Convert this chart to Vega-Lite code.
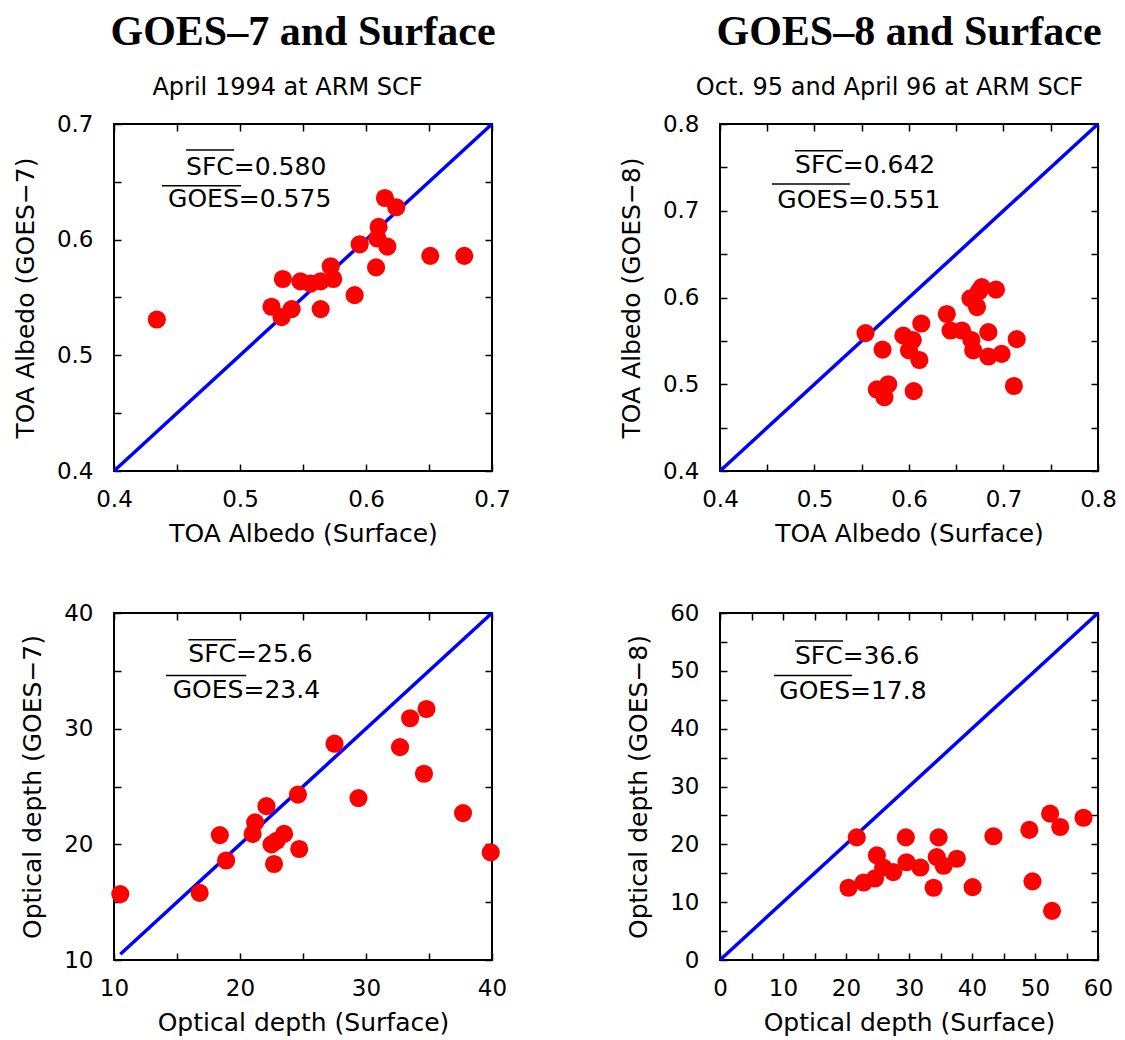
{
  "$schema": "https://vega.github.io/schema/vega-lite/v6.json",
  "background": "white",
  "padding": {"left": 12, "top": 10, "right": 5, "bottom": 5},
  "columns": 2,
  "spacing": {"row": 142, "column": 228},
  "bounds": "flush",
  "config": {
    "font": "DejaVu Sans",
    "view": {"stroke": "black", "strokeWidth": 2},
    "axis": {"domain": false, "grid": false, "ticks": true, "tickColor": "black", "tickWidth": 1.5, "tickSize": -7, "labelFont": "DejaVu Sans", "labelFontSize": 23, "labelColor": "black", "labelFlush": false, "labelOverlap": false, "titleFont": "DejaVu Sans", "titleFontSize": 25, "titleFontWeight": "normal", "titleColor": "black"},
    "axisX": {"labelPadding": 24, "titlePadding": 10},
    "axisY": {"labelPadding": 28, "titlePadding": 18},
    "title": {"font": "Liberation Serif", "fontSize": 42, "fontWeight": "bold", "color": "black", "anchor": "middle", "offset": 21, "frame": "group"}
  },
  "datasets": {
    "g7_albedo": [
      {"sfc": 0.434, "goes": 0.531}, {"sfc": 0.615, "goes": 0.636}, {"sfc": 0.624, "goes": 0.628}, {"sfc": 0.610, "goes": 0.611},
      {"sfc": 0.609, "goes": 0.601}, {"sfc": 0.617, "goes": 0.594}, {"sfc": 0.595, "goes": 0.596}, {"sfc": 0.608, "goes": 0.576},
      {"sfc": 0.651, "goes": 0.586}, {"sfc": 0.678, "goes": 0.586}, {"sfc": 0.591, "goes": 0.552}, {"sfc": 0.572, "goes": 0.577},
      {"sfc": 0.574, "goes": 0.566}, {"sfc": 0.564, "goes": 0.564}, {"sfc": 0.556, "goes": 0.562}, {"sfc": 0.548, "goes": 0.564},
      {"sfc": 0.534, "goes": 0.566}, {"sfc": 0.525, "goes": 0.542}, {"sfc": 0.533, "goes": 0.533}, {"sfc": 0.541, "goes": 0.540},
      {"sfc": 0.564, "goes": 0.540}
    ],
    "g8_albedo": [
      {"sfc": 0.554, "goes": 0.559}, {"sfc": 0.572, "goes": 0.540}, {"sfc": 0.566, "goes": 0.494}, {"sfc": 0.578, "goes": 0.500},
      {"sfc": 0.574, "goes": 0.485}, {"sfc": 0.605, "goes": 0.492}, {"sfc": 0.594, "goes": 0.556}, {"sfc": 0.600, "goes": 0.539},
      {"sfc": 0.611, "goes": 0.528}, {"sfc": 0.613, "goes": 0.570}, {"sfc": 0.604, "goes": 0.551}, {"sfc": 0.640, "goes": 0.581},
      {"sfc": 0.644, "goes": 0.562}, {"sfc": 0.656, "goes": 0.562}, {"sfc": 0.666, "goes": 0.551}, {"sfc": 0.668, "goes": 0.539},
      {"sfc": 0.674, "goes": 0.607}, {"sfc": 0.665, "goes": 0.599}, {"sfc": 0.672, "goes": 0.589}, {"sfc": 0.692, "goes": 0.609},
      {"sfc": 0.677, "goes": 0.612}, {"sfc": 0.684, "goes": 0.560}, {"sfc": 0.684, "goes": 0.532}, {"sfc": 0.698, "goes": 0.535},
      {"sfc": 0.714, "goes": 0.552}, {"sfc": 0.711, "goes": 0.498}
    ],
    "g7_tau": [
      {"sfc": 10.5, "goes": 15.7}, {"sfc": 16.8, "goes": 15.8}, {"sfc": 18.4, "goes": 20.8}, {"sfc": 18.9, "goes": 18.6},
      {"sfc": 21.0, "goes": 20.9}, {"sfc": 21.2, "goes": 21.9}, {"sfc": 22.1, "goes": 23.3}, {"sfc": 22.5, "goes": 20.0},
      {"sfc": 22.7, "goes": 18.3}, {"sfc": 23.5, "goes": 20.9}, {"sfc": 22.9, "goes": 20.3}, {"sfc": 24.7, "goes": 19.6},
      {"sfc": 24.6, "goes": 24.3}, {"sfc": 27.5, "goes": 28.7}, {"sfc": 29.4, "goes": 24.0}, {"sfc": 32.7, "goes": 28.4},
      {"sfc": 33.5, "goes": 30.9}, {"sfc": 34.8, "goes": 31.7}, {"sfc": 34.6, "goes": 26.1}, {"sfc": 37.7, "goes": 22.7},
      {"sfc": 39.9, "goes": 19.3}
    ],
    "g8_tau": [
      {"sfc": 21.7, "goes": 21.2}, {"sfc": 20.4, "goes": 12.5}, {"sfc": 22.8, "goes": 13.4}, {"sfc": 24.6, "goes": 14.1},
      {"sfc": 24.9, "goes": 18.1}, {"sfc": 25.9, "goes": 16.0}, {"sfc": 27.5, "goes": 15.2}, {"sfc": 29.5, "goes": 21.2},
      {"sfc": 29.6, "goes": 16.9}, {"sfc": 31.8, "goes": 16.0}, {"sfc": 33.9, "goes": 12.5}, {"sfc": 34.7, "goes": 21.2},
      {"sfc": 34.4, "goes": 17.8}, {"sfc": 35.5, "goes": 16.3}, {"sfc": 37.6, "goes": 17.5}, {"sfc": 40.1, "goes": 12.6},
      {"sfc": 43.4, "goes": 21.4}, {"sfc": 49.1, "goes": 22.5}, {"sfc": 49.6, "goes": 13.6}, {"sfc": 52.4, "goes": 25.3},
      {"sfc": 54.0, "goes": 23.0}, {"sfc": 52.7, "goes": 8.5}, {"sfc": 57.7, "goes": 24.6}
    ],
    "diag_a": [{"sfc": 0.4, "goes": 0.4}, {"sfc": 0.7, "goes": 0.7}],
    "diag_b": [{"sfc": 0.4, "goes": 0.4}, {"sfc": 0.8, "goes": 0.8}],
    "diag_c": [{"sfc": 10.5, "goes": 10.5}, {"sfc": 40, "goes": 40}],
    "diag_d": [{"sfc": 0, "goes": 0}, {"sfc": 60, "goes": 60}],
    "notes": [
      {"panel": "a", "label": "SFC=0.580", "x": 0.4572, "y": 0.6559},
      {"panel": "a", "label": "GOES=0.575", "x": 0.4429, "y": 0.6284},
      {"panel": "b", "label": "SFC=0.642", "x": 0.4794, "y": 0.7438},
      {"panel": "b", "label": "GOES=0.551", "x": 0.4606, "y": 0.7035},
      {"panel": "c", "label": "SFC=25.6", "x": 15.9, "y": 35.75},
      {"panel": "c", "label": "GOES=23.4", "x": 14.66, "y": 32.64},
      {"panel": "d", "label": "SFC=36.6", "x": 11.9, "y": 51.23},
      {"panel": "d", "label": "GOES=17.8", "x": 9.41, "y": 45.17}
    ],
    "overlines": [
      {"panel": "a", "x": 0.4572, "x2": 0.4954, "y": 0.6775},
      {"panel": "a", "x": 0.4381, "x2": 0.5009, "y": 0.6466},
      {"panel": "b", "x": 0.4794, "x2": 0.5302, "y": 0.7692},
      {"panel": "b", "x": 0.4550, "x2": 0.5376, "y": 0.7308},
      {"panel": "c", "x": 15.9, "x2": 19.7, "y": 37.69},
      {"panel": "c", "x": 14.13, "x2": 20.49, "y": 34.6},
      {"panel": "d", "x": 11.9, "x2": 19.52, "y": 55.14},
      {"panel": "d", "x": 8.57, "x2": 20.95, "y": 49.2}
    ]
  },
  "concat": [
    {
      "width": 378, "height": 347,
      "title": {"text": "GOES–7 and Surface"},
      "layer": [
        {
          "data": {"name": "diag_a"},
          "mark": {"type": "line", "color": "#0000ff", "strokeWidth": 3.5},
          "encoding": {
            "x": {"field": "sfc", "type": "quantitative", "scale": {"domain": [0.4, 0.7], "nice": false, "zero": false},
                  "axis": {"orient": "bottom", "title": "TOA Albedo (Surface)", "values": [0.4, 0.45, 0.5, 0.55, 0.6, 0.65, 0.7], "labelExpr": "abs(datum.value*10 - round(datum.value*10)) < 0.001 ? format(datum.value, '.1f') : ''"}},
            "y": {"field": "goes", "type": "quantitative", "scale": {"domain": [0.4, 0.7], "nice": false, "zero": false},
                  "axis": {"orient": "left", "title": "TOA Albedo (GOES−7)", "values": [0.4, 0.45, 0.5, 0.55, 0.6, 0.65, 0.7], "labelExpr": "abs(datum.value*10 - round(datum.value*10)) < 0.001 ? format(datum.value, '.1f') : ''"}}
          }
        },
        {
          "data": {"name": "g7_albedo"},
          "mark": {"type": "circle", "color": "#ff0000", "size": 330, "opacity": 1},
          "encoding": {
            "x": {"field": "sfc", "type": "quantitative", "scale": {"domain": [0.4, 0.7], "nice": false, "zero": false},
                  "axis": {"orient": "top", "title": "April 1994 at ARM SCF", "titleFontSize": 24, "titlePadding": 29, "titleBaseline": "alphabetic", "titleX": 173, "titleAlign": "center", "labels": false, "values": [0.4, 0.45, 0.5, 0.55, 0.6, 0.65, 0.7]}},
            "y": {"field": "goes", "type": "quantitative", "scale": {"domain": [0.4, 0.7], "nice": false, "zero": false},
                  "axis": {"orient": "right", "title": null, "labels": false, "values": [0.4, 0.45, 0.5, 0.55, 0.6, 0.65, 0.7]}}
          }
        },
        {
          "data": {"name": "notes"},
          "transform": [{"filter": "datum.panel == 'a'"}],
          "mark": {"type": "text", "align": "left", "baseline": "alphabetic", "font": "DejaVu Sans", "fontSize": 25, "color": "black"},
          "encoding": {
            "x": {"field": "x", "type": "quantitative", "axis": null},
            "y": {"field": "y", "type": "quantitative", "axis": null},
            "text": {"field": "label"}
          }
        },
        {
          "data": {"name": "overlines"},
          "transform": [{"filter": "datum.panel == 'a'"}],
          "mark": {"type": "rule", "color": "black", "strokeWidth": 1.5},
          "encoding": {
            "x": {"field": "x", "type": "quantitative", "axis": null},
            "x2": {"field": "x2"},
            "y": {"field": "y", "type": "quantitative", "axis": null}
          }
        }
      ],
      "resolve": {"axis": {"x": "independent", "y": "independent"}}
    },
    {
      "width": 378, "height": 347,
      "title": {"text": "GOES–8 and Surface"},
      "layer": [
        {
          "data": {"name": "diag_b"},
          "mark": {"type": "line", "color": "#0000ff", "strokeWidth": 3.5},
          "encoding": {
            "x": {"field": "sfc", "type": "quantitative", "scale": {"domain": [0.4, 0.8], "nice": false, "zero": false},
                  "axis": {"orient": "bottom", "title": "TOA Albedo (Surface)", "values": [0.4, 0.45, 0.5, 0.55, 0.6, 0.65, 0.7, 0.75, 0.8], "labelExpr": "abs(datum.value*10 - round(datum.value*10)) < 0.001 ? format(datum.value, '.1f') : ''"}},
            "y": {"field": "goes", "type": "quantitative", "scale": {"domain": [0.4, 0.8], "nice": false, "zero": false},
                  "axis": {"orient": "left", "title": "TOA Albedo (GOES−8)", "values": [0.4, 0.45, 0.5, 0.55, 0.6, 0.65, 0.7, 0.75, 0.8], "labelExpr": "abs(datum.value*10 - round(datum.value*10)) < 0.001 ? format(datum.value, '.1f') : ''"}}
          }
        },
        {
          "data": {"name": "g8_albedo"},
          "mark": {"type": "circle", "color": "#ff0000", "size": 330, "opacity": 1},
          "encoding": {
            "x": {"field": "sfc", "type": "quantitative", "scale": {"domain": [0.4, 0.8], "nice": false, "zero": false},
                  "axis": {"orient": "top", "title": "Oct. 95 and April 96 at ARM SCF", "titleFontSize": 24, "titlePadding": 29, "titleBaseline": "alphabetic", "titleX": 169, "titleAlign": "center", "labels": false, "values": [0.4, 0.45, 0.5, 0.55, 0.6, 0.65, 0.7, 0.75, 0.8]}},
            "y": {"field": "goes", "type": "quantitative", "scale": {"domain": [0.4, 0.8], "nice": false, "zero": false},
                  "axis": {"orient": "right", "title": null, "labels": false, "values": [0.4, 0.45, 0.5, 0.55, 0.6, 0.65, 0.7, 0.75, 0.8]}}
          }
        },
        {
          "data": {"name": "notes"},
          "transform": [{"filter": "datum.panel == 'b'"}],
          "mark": {"type": "text", "align": "left", "baseline": "alphabetic", "font": "DejaVu Sans", "fontSize": 25, "color": "black"},
          "encoding": {
            "x": {"field": "x", "type": "quantitative", "axis": null},
            "y": {"field": "y", "type": "quantitative", "axis": null},
            "text": {"field": "label"}
          }
        },
        {
          "data": {"name": "overlines"},
          "transform": [{"filter": "datum.panel == 'b'"}],
          "mark": {"type": "rule", "color": "black", "strokeWidth": 1.5},
          "encoding": {
            "x": {"field": "x", "type": "quantitative", "axis": null},
            "x2": {"field": "x2"},
            "y": {"field": "y", "type": "quantitative", "axis": null}
          }
        }
      ],
      "resolve": {"axis": {"x": "independent", "y": "independent"}}
    },
    {
      "width": 378, "height": 347,
      "layer": [
        {
          "data": {"name": "diag_c"},
          "mark": {"type": "line", "color": "#0000ff", "strokeWidth": 3.5},
          "encoding": {
            "x": {"field": "sfc", "type": "quantitative", "scale": {"domain": [10, 40], "nice": false, "zero": false},
                  "axis": {"orient": "bottom", "title": "Optical depth (Surface)", "values": [10, 15, 20, 25, 30, 35, 40], "labelExpr": "datum.value % 10 == 0 ? format(datum.value, 'd') : ''"}},
            "y": {"field": "goes", "type": "quantitative", "scale": {"domain": [10, 40], "nice": false, "zero": false},
                  "axis": {"orient": "left", "title": "Optical depth (GOES−7)", "values": [10, 15, 20, 25, 30, 35, 40], "labelExpr": "datum.value % 10 == 0 ? format(datum.value, 'd') : ''"}}
          }
        },
        {
          "data": {"name": "g7_tau"},
          "mark": {"type": "circle", "color": "#ff0000", "size": 330, "opacity": 1},
          "encoding": {
            "x": {"field": "sfc", "type": "quantitative", "scale": {"domain": [10, 40], "nice": false, "zero": false},
                  "axis": {"orient": "top", "title": null, "labels": false, "values": [10, 15, 20, 25, 30, 35, 40]}},
            "y": {"field": "goes", "type": "quantitative", "scale": {"domain": [10, 40], "nice": false, "zero": false},
                  "axis": {"orient": "right", "title": null, "labels": false, "values": [10, 15, 20, 25, 30, 35, 40]}}
          }
        },
        {
          "data": {"name": "notes"},
          "transform": [{"filter": "datum.panel == 'c'"}],
          "mark": {"type": "text", "align": "left", "baseline": "alphabetic", "font": "DejaVu Sans", "fontSize": 25, "color": "black"},
          "encoding": {
            "x": {"field": "x", "type": "quantitative", "axis": null},
            "y": {"field": "y", "type": "quantitative", "axis": null},
            "text": {"field": "label"}
          }
        },
        {
          "data": {"name": "overlines"},
          "transform": [{"filter": "datum.panel == 'c'"}],
          "mark": {"type": "rule", "color": "black", "strokeWidth": 1.5},
          "encoding": {
            "x": {"field": "x", "type": "quantitative", "axis": null},
            "x2": {"field": "x2"},
            "y": {"field": "y", "type": "quantitative", "axis": null}
          }
        }
      ],
      "resolve": {"axis": {"x": "independent", "y": "independent"}}
    },
    {
      "width": 378, "height": 347,
      "layer": [
        {
          "data": {"name": "diag_d"},
          "mark": {"type": "line", "color": "#0000ff", "strokeWidth": 3.5},
          "encoding": {
            "x": {"field": "sfc", "type": "quantitative", "scale": {"domain": [0, 60], "nice": false, "zero": false},
                  "axis": {"orient": "bottom", "title": "Optical depth (Surface)", "values": [0, 5, 10, 15, 20, 25, 30, 35, 40, 45, 50, 55, 60], "labelExpr": "datum.value % 10 == 0 ? format(datum.value, 'd') : ''"}},
            "y": {"field": "goes", "type": "quantitative", "scale": {"domain": [0, 60], "nice": false, "zero": false},
                  "axis": {"orient": "left", "title": "Optical depth (GOES−8)", "values": [0, 5, 10, 15, 20, 25, 30, 35, 40, 45, 50, 55, 60], "labelExpr": "datum.value % 10 == 0 ? format(datum.value, 'd') : ''"}}
          }
        },
        {
          "data": {"name": "g8_tau"},
          "mark": {"type": "circle", "color": "#ff0000", "size": 330, "opacity": 1},
          "encoding": {
            "x": {"field": "sfc", "type": "quantitative", "scale": {"domain": [0, 60], "nice": false, "zero": false},
                  "axis": {"orient": "top", "title": null, "labels": false, "values": [0, 5, 10, 15, 20, 25, 30, 35, 40, 45, 50, 55, 60]}},
            "y": {"field": "goes", "type": "quantitative", "scale": {"domain": [0, 60], "nice": false, "zero": false},
                  "axis": {"orient": "right", "title": null, "labels": false, "values": [0, 5, 10, 15, 20, 25, 30, 35, 40, 45, 50, 55, 60]}}
          }
        },
        {
          "data": {"name": "notes"},
          "transform": [{"filter": "datum.panel == 'd'"}],
          "mark": {"type": "text", "align": "left", "baseline": "alphabetic", "font": "DejaVu Sans", "fontSize": 25, "color": "black"},
          "encoding": {
            "x": {"field": "x", "type": "quantitative", "axis": null},
            "y": {"field": "y", "type": "quantitative", "axis": null},
            "text": {"field": "label"}
          }
        },
        {
          "data": {"name": "overlines"},
          "transform": [{"filter": "datum.panel == 'd'"}],
          "mark": {"type": "rule", "color": "black", "strokeWidth": 1.5},
          "encoding": {
            "x": {"field": "x", "type": "quantitative", "axis": null},
            "x2": {"field": "x2"},
            "y": {"field": "y", "type": "quantitative", "axis": null}
          }
        }
      ],
      "resolve": {"axis": {"x": "independent", "y": "independent"}}
    }
  ]
}
